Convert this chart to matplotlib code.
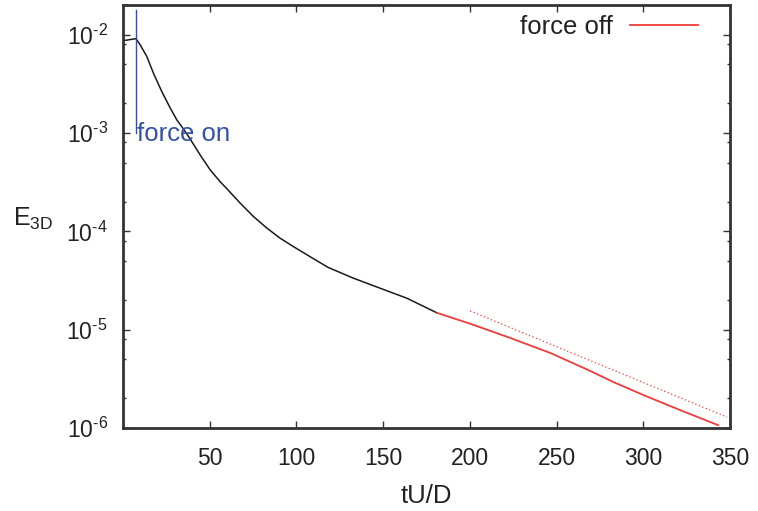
import math
import matplotlib
matplotlib.use("Agg")
import matplotlib.pyplot as plt
from matplotlib.ticker import LogLocator, FixedLocator, FuncFormatter, NullFormatter

plt.rcParams['font.family'] = ['Liberation Sans', 'DejaVu Sans']
plt.rcParams['mathtext.fontset'] = 'custom'
plt.rcParams['mathtext.rm'] = 'Liberation Sans'
plt.rcParams['mathtext.it'] = 'Liberation Sans:italic'

# forced phase + decay (black)
t_on = [0.5, 7.5, 9.8, 13.7, 17.5, 22.3, 27.1, 31.0, 35.8, 39.6, 44.4, 50.2,
        55.9, 59.8, 67.5, 75.1, 82.9, 90.5, 98.2, 107.8, 118.2, 132.8, 148.2,
        163.6, 181.1]
e_on = [8.7e-3, 9.1e-3, 7.91e-3, 6.01e-3, 4.07e-3, 2.65e-3, 1.81e-3, 1.36e-3,
        1.04e-3, 8.2e-4, 6.01e-4, 4.23e-4, 3.21e-4, 2.72e-4, 1.94e-4, 1.42e-4,
        1.08e-4, 8.53e-5, 7.0e-5, 5.53e-5, 4.3e-5, 3.34e-5, 2.64e-5, 2.09e-5,
        1.48e-5]

# force switched off (red)
t_off = [181.1, 200.1, 223.2, 246.3, 268.2, 282.6, 299.9, 321.2, 343.1]
e_off = [1.48e-5, 1.15e-5, 8.24e-6, 5.80e-6, 3.89e-6, 2.94e-6, 2.17e-6,
         1.52e-6, 1.07e-6]

# exponential fit (dotted)
t_fit = [200.1, 348.3]
e_fit = [1.55e-5, 1.29e-6]

# marker for forcing
t_force = 7.5
e_force = [1e-3, 1.8e-2]

xticks = [50, 100, 150, 200, 250, 300, 350]

fig = plt.figure(figsize=(7.58, 5.11), dpi=100)
ax = fig.add_axes([123/758, 83/511, 607/758, 423/511])

ax.plot(t_on, e_on, color='#1a1a1a', lw=1.1)
ax.plot(t_off, e_off, color='#f03c3c', lw=1.3, label='force off')
ax.plot(t_fit, e_fit, color='#f03c3c', lw=0.9, ls=(0, (1, 2)))
ax.plot([t_force, t_force], e_force, color='#3452a4', lw=1.0)
ax.text(t_force + 0.6, 8.2e-4, 'force on', color='#3452a4', fontsize=18.5,
        ha='left', va='baseline')

ax.set_yscale('log')
ax.set_xlim(0, 350)
ax.set_ylim(1e-6, 2e-2)

ax.xaxis.set_major_locator(FixedLocator(xticks))
ax.yaxis.set_major_locator(LogLocator(base=10))
ax.yaxis.set_minor_locator(LogLocator(base=10, subs=(2, 5, 8)))
ax.yaxis.set_minor_formatter(NullFormatter())
ax.yaxis.set_major_formatter(FuncFormatter(
    lambda v, p: r'$10^{\text{-}%d}$' % abs(round(math.log10(v)))))

ax.tick_params(which='both', direction='in', top=True, right=True,
               labelsize=16.5, color='#333333', labelcolor='#222222')
ax.tick_params(which='major', length=5, width=1.0)
ax.tick_params(which='minor', length=2.5, width=1.0)
ax.tick_params(axis='x', which='major', pad=14)
ax.tick_params(axis='y', which='major', pad=11)
for s in ax.spines.values():
    s.set_linewidth(2.0)
    s.set_color('#333333')

ax.set_xlabel('tU/D', fontsize=18.5, color='#222222', labelpad=10)
ax.set_ylabel(r'$\mathrm{E}_{\mathrm{3D}}$', fontsize=18, color='#222222',
              rotation=0, ha='center', va='center')
ax.yaxis.set_label_coords(-0.148, 0.495)

ax.legend(loc='center right', bbox_to_anchor=(0.947, 0.948), frameon=False,
          markerfirst=False, fontsize=18.5, handlelength=2.65,
          handletextpad=0.66, borderaxespad=0, borderpad=0,
          labelcolor='#222222')

fig.savefig('out.png', dpi=100)
